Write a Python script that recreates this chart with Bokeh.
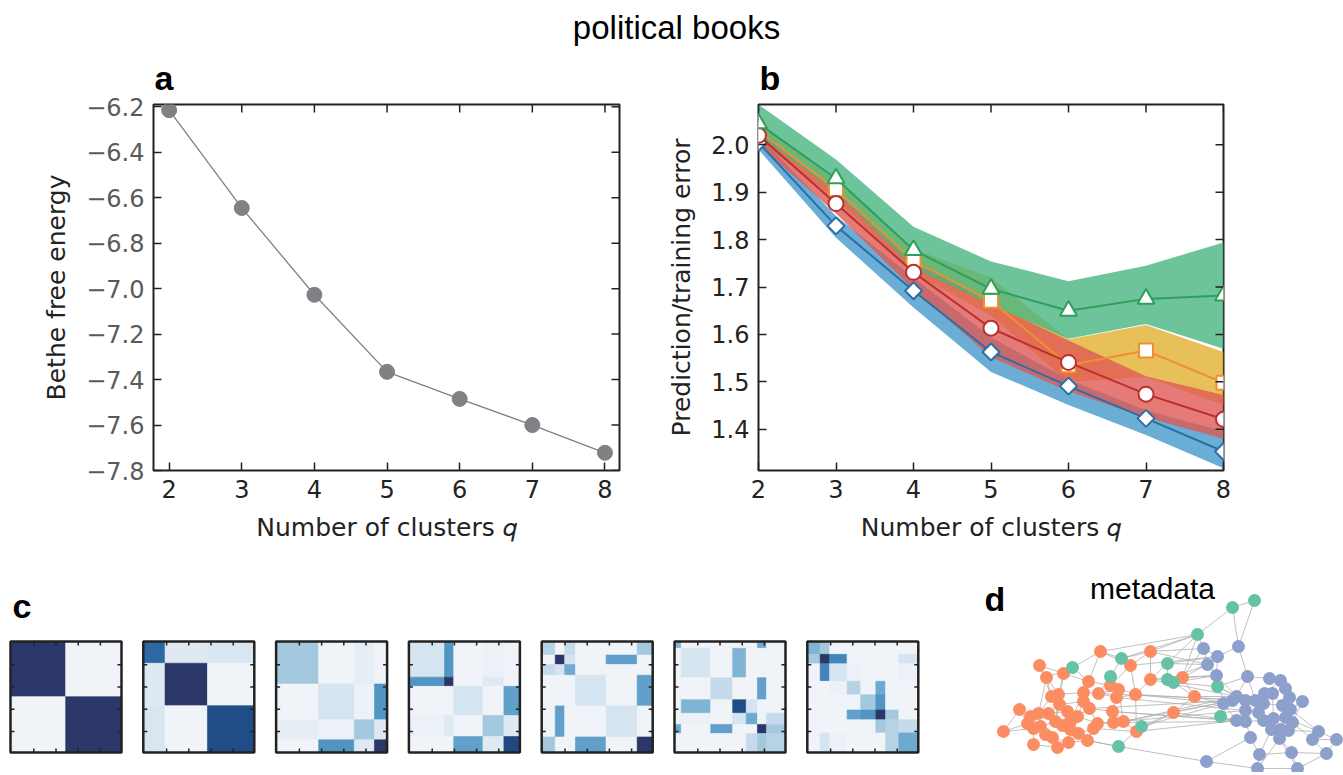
import math
from bokeh.plotting import figure
from bokeh.layouts import column, row
from bokeh.models import Range1d, FixedTicker, ColumnDataSource, LinearColorMapper
from bokeh.core.properties import value
from bokeh.embed import file_html
from bokeh.resources import INLINE

# ---------------- data ----------------
TITLE = "political books"
q_values = [2, 3, 4, 5, 6, 7, 8]

# panel a
bethe_free_energy = [-6.215, -6.645, -7.027, -7.366, -7.485, -7.600, -7.722]
a_yticks = [-7.8, -7.6, -7.4, -7.2, -7.0, -6.8, -6.6, -6.4, -6.2]
a_ytick_labels = ["\u22127.8", "\u22127.6", "\u22127.4", "\u22127.2", "\u22127.0",
                  "\u22126.8", "\u22126.6", "\u22126.4", "\u22126.2"]

# panel b (mean, lower, upper)
b_yticks = [1.4, 1.5, 1.6, 1.7, 1.8, 1.9, 2.0]
b_ytick_labels = ["1.4", "1.5", "1.6", "1.7", "1.8", "1.9", "2.0"]
green_mean = [2.045, 1.929, 1.778, 1.696, 1.650, 1.675, 1.682]
green_lo = [2.020, 1.900, 1.740, 1.662, 1.591, 1.622, 1.570]
green_hi = [2.085, 1.969, 1.827, 1.754, 1.712, 1.745, 1.794]
yellow_mean = [2.030, 1.906, 1.755, 1.671, 1.535, 1.566, 1.498]
yellow_lo = [2.010, 1.885, 1.730, 1.640, 1.500, 1.510, 1.451]
yellow_hi = [2.050, 1.925, 1.780, 1.720, 1.590, 1.620, 1.563]
red_mean = [2.020, 1.876, 1.731, 1.613, 1.541, 1.474, 1.421]
red_lo = [2.000, 1.855, 1.695, 1.552, 1.480, 1.425, 1.380]
red_hi = [2.035, 1.900, 1.760, 1.664, 1.587, 1.512, 1.472]
blue_mean = [2.005, 1.829, 1.692, 1.563, 1.491, 1.423, 1.353]
blue_lo = [1.990, 1.804, 1.657, 1.521, 1.451, 1.388, 1.318]
blue_hi = [2.020, 1.850, 1.720, 1.594, 1.505, 1.440, 1.395]

# panel c: block sizes (fractions) and block matrices for q = 2..8
hm_ticks = [0.21, 0.41, 0.61, 0.81]
blocks_q2 = [0.497, 0.503]
mat_q2 = [[1.0, 0.01], [0.01, 1.0]]
blocks_q3 = [0.196, 0.382, 0.422]
mat_q3 = [[0.76, 0.12, 0.15], [0.12, 1.0, 0.01], [0.15, 0.01, 0.87]]
blocks_q4 = [0.383, 0.322, 0.181, 0.114]
mat_q4 = [[0.38, 0.01, 0.07, 0.01], [0.01, 0.17, 0.03, 0.60],
          [0.07, 0.04, 0.38, 0.12], [0.01, 0.60, 0.12, 1.0]]
blocks_q5 = [0.321, 0.083, 0.263, 0.189, 0.144]
mat_q5 = [[0.17, 0.60, 0.01, 0.04, 0.01], [0.60, 1.0, 0.01, 0.12, 0.01],
          [0.01, 0.01, 0.17, 0.01, 0.55], [0.04, 0.12, 0.01, 0.38, 0.12],
          [0.01, 0.01, 0.55, 0.12, 0.90]]
blocks_q6 = [0.122, 0.085, 0.097, 0.276, 0.280, 0.140]
mat_q6 = [[0.31, 0.01, 0.25, 0.01, 0.01, 0.38], [0.01, 1.0, 0.17, 0.01, 0.55, 0.01],
          [0.25, 0.17, 0.50, 0.01, 0.01, 0.01], [0.01, 0.01, 0.01, 0.17, 0.01, 0.55],
          [0.01, 0.55, 0.01, 0.01, 0.17, 0.01], [0.38, 0.01, 0.01, 0.55, 0.01, 1.0]]
blocks_q7 = [0.061, 0.265, 0.198, 0.122, 0.101, 0.082, 0.171]
mat_q7 = [[0.46, 0.01, 0.01, 0.01, 0.01, 0.50, 0.01],
          [0.01, 0.17, 0.01, 0.46, 0.01, 0.01, 0.01],
          [0.01, 0.01, 0.25, 0.01, 0.01, 0.55, 0.01],
          [0.01, 0.46, 0.01, 0.87, 0.17, 0.01, 0.01],
          [0.01, 0.04, 0.01, 0.17, 0.50, 0.01, 0.25],
          [0.50, 0.01, 0.55, 0.01, 0.01, 1.0, 0.38],
          [0.01, 0.01, 0.01, 0.01, 0.25, 0.38, 0.31]]
blocks_q8 = [0.116, 0.085, 0.158, 0.122, 0.137, 0.088, 0.119, 0.176]
mat_q8 = [[0.46, 0.38, 0.01, 0.01, 0.01, 0.01, 0.01, 0.01],
          [0.38, 1.0, 0.66, 0.01, 0.01, 0.01, 0.01, 0.17],
          [0.01, 0.66, 0.17, 0.04, 0.01, 0.01, 0.01, 0.04],
          [0.01, 0.01, 0.04, 0.31, 0.01, 0.50, 0.01, 0.01],
          [0.01, 0.01, 0.01, 0.01, 0.38, 0.60, 0.01, 0.01],
          [0.01, 0.01, 0.01, 0.55, 0.60, 1.0, 0.38, 0.01],
          [0.01, 0.01, 0.01, 0.01, 0.01, 0.38, 0.31, 0.25],
          [0.01, 0.17, 0.04, 0.01, 0.01, 0.01, 0.31, 0.50]]
all_blocks = [blocks_q2, blocks_q3, blocks_q4, blocks_q5, blocks_q6, blocks_q7, blocks_q8]
all_mats = [mat_q2, mat_q3, mat_q4, mat_q5, mat_q6, mat_q7, mat_q8]

# panel d: node layout positions (liberal, neutral, conservative) and edges
liberal_x = [1100, 1150, 1039, 1063, 1130, 1046, 1088, 1150, 1110, 1118, 1051, 1058, 1083, 1098,
             1116, 1135, 1059, 1083, 1089, 1019, 1112, 1030, 1038, 1048, 1067, 1077, 1027, 1040,
             1055, 1070, 1097, 1113, 1123, 1003, 1033, 1045, 1070, 1078, 1093, 1136, 1052, 1068,
             1087, 1033, 1057, 1173, 1182, 1194, 1062]
liberal_y = [651, 651, 665, 673, 665, 677, 681, 679, 685, 689, 696, 694, 692, 693,
             697, 694, 704, 701, 708, 709, 711, 716, 713, 713, 711, 716, 723, 726,
             721, 721, 723, 722, 721, 731, 728, 734, 729, 733, 728, 731, 737, 742,
             740, 744, 747, 712, 677, 696, 725]
neutral_x = [1254, 1232, 1197, 1121, 1072, 1110, 1167, 1167, 1173, 1217, 1220, 1141, 1118]
neutral_y = [600, 607, 634, 658, 667, 676, 663, 679, 682, 686, 716, 726, 746]
conservative_x = [1203, 1238, 1217, 1207, 1216, 1247, 1269, 1280, 1285, 1289, 1302, 1223, 1236,
                  1232, 1245, 1255, 1264, 1272, 1263, 1282, 1290, 1245, 1258, 1236, 1245, 1263,
                  1273, 1285, 1292, 1271, 1280, 1288, 1250, 1279, 1318, 1312, 1336, 1259, 1291,
                  1326, 1206, 1257, 1297]
conservative_y = [648, 646, 656, 664, 675, 676, 678, 680, 688, 697, 701, 703, 696,
                  700, 700, 700, 693, 693, 703, 705, 709, 710, 712, 720, 721, 720,
                  718, 717, 722, 729, 729, 730, 737, 738, 731, 739, 739, 754, 752,
                  753, 761, 768, 768]
edges = [
    (49, 50), (49, 63), (50, 51), (50, 63), (51, 62), (51, 55), (51, 0), (51, 1), (51, 46), (51, 52),
    (62, 65), (62, 64), (63, 64), (63, 67), (64, 66), (65, 66), (65, 55), (62, 46),
    (66, 73), (66, 74), (67, 68), (67, 74), (67, 77), (68, 69), (69, 70), (70, 71), (71, 72), (72, 82),
    (70, 79), (69, 78), (73, 75), (74, 76), (75, 76), (76, 77), (77, 78), (78, 79), (79, 81), (80, 81),
    (80, 77), (81, 82), (82, 90), (83, 84), (83, 86), (84, 87), (85, 86), (86, 87), (87, 88), (88, 89),
    (89, 90), (88, 91), (91, 92), (92, 93), (93, 90), (94, 86), (94, 99), (95, 92), (95, 100), (96, 97),
    (97, 98), (96, 98), (97, 101), (98, 101), (99, 103), (100, 104), (99, 100), (103, 104), (102, 103),
    (102, 94), (100, 101), (91, 95), (85, 73), (84, 80), (93, 96), (89, 96), (82, 96), (90, 97),
    (73, 59), (75, 59), (85, 59), (76, 58), (74, 58), (66, 58), (67, 58), (80, 87), (81, 89), (83, 85),
    (77, 84), (78, 80), (79, 88), (71, 81), (72, 90), (93, 95), (99, 91), (103, 95), (104, 95), (101, 104),
    (61, 102), (60, 73), (45, 75), (45, 85), (47, 73), (47, 74), (46, 66), (46, 65), (57, 66), (56, 65),
    (58, 57), (55, 64), (39, 85), (32, 75), (15, 73), (15, 76), (7, 66), (7, 74), (1, 62), (1, 65),
    (4, 64), (14, 83), (20, 86), (45, 47), (45, 39), (47, 46), (46, 7), (60, 39), (60, 45), (61, 42),
    (61, 60), (52, 0), (52, 1), (52, 4), (52, 54), (54, 8), (54, 13), (53, 3), (53, 6), (53, 5), (53, 0),
    (0, 6), (0, 4), (1, 4), (1, 7), (4, 8), (7, 15), (15, 39), (4, 15), (13, 77), (20, 85), (31, 86),
    (18, 75), (30, 83), (32, 74), (56, 57), (55, 56), (55, 7), (57, 47),
    (2, 5), (2, 3), (3, 6), (3, 11), (5, 10), (5, 11), (6, 12), (6, 8), (8, 9), (9, 14), (9, 13),
    (12, 13), (12, 17), (13, 14), (14, 20), (10, 11), (10, 16), (11, 12), (16, 17), (17, 18), (18, 20),
    (18, 30), (19, 21), (19, 26), (19, 33), (21, 22), (22, 23), (23, 24), (24, 25), (25, 30), (24, 29),
    (26, 27), (27, 28), (28, 29), (29, 36), (30, 31), (31, 32), (32, 39), (33, 34), (33, 26), (34, 35),
    (35, 40), (36, 37), (37, 42), (38, 42), (38, 30), (40, 41), (41, 44), (42, 41), (43, 34), (43, 44),
    (44, 40), (27, 35), (28, 16), (23, 16), (22, 10), (21, 27), (25, 18), (36, 41), (37, 38), (20, 31),
    (14, 15), (8, 15), (9, 32), (11, 24), (17, 25), (12, 29), (16, 24), (48, 28), (48, 36), (48, 29),
    (48, 24), (30, 32), (20, 32), (38, 39), (42, 61), (5, 22), (2, 10), (6, 17), (3, 16), (12, 18),
    (25, 36), (21, 26), (27, 34), (11, 28), (29, 37),
]

# ---------------- styles / layout constants ----------------
SANS = "DejaVu Sans"
HEAD = "Liberation Sans"
DARK = "#222222"
LABEL_SIZE = "34px"
MID = 0.3465  # distance (in em) from alphabetic baseline to middle of the em box


def style_axis(ax, label_color=DARK):
    ax.axis_line_color = None
    ax.major_tick_in = 8
    ax.major_tick_out = 0
    ax.minor_tick_line_color = None
    ax.major_tick_line_color = DARK
    ax.major_tick_line_width = 1.5
    ax.major_label_text_font = SANS
    ax.major_label_text_font_size = "24px"
    ax.major_label_text_color = label_color
    ax.major_label_standoff = 9
    ax.axis_label_text_font = SANS
    ax.axis_label_text_font_size = "25px"
    ax.axis_label_text_font_style = "normal"
    ax.axis_label_text_color = DARK
    ax.axis_label_standoff = 12


def mirror_ticks(p, xr, yr, xticks, yticks, fw, fh, length=8):
    # inward ticks on the top and right frame edges
    dy = (yr[1] - yr[0]) * length / fh
    dx = (xr[1] - xr[0]) * length / fw
    p.segment(x0=xticks, y0=[yr[1]] * len(xticks), x1=xticks, y1=[yr[1] - dy] * len(xticks),
              line_color=DARK, line_width=1.5)
    p.segment(x0=[xr[1]] * len(yticks), y0=yticks, x1=[xr[1] - dx] * len(yticks), y1=yticks,
              line_color=DARK, line_width=1.5)


def panel_title(p, text):
    p.title.text = text
    p.title.text_font = HEAD
    p.title.text_font_size = LABEL_SIZE
    p.title.text_font_style = "bold"
    p.title.text_color = "black"
    p.title.align = "left"
    p.title.standoff = 15
    p.title.offset = 1


def frame_style(p):
    p.outline_line_color = DARK
    p.outline_line_width = 2
    p.outline_line_alpha = 1.0
    p.xgrid.grid_line_color = None
    p.ygrid.grid_line_color = None


def hide_title(p):
    p.title.text_font_size = "0px"
    p.title.standoff = 0
    p.title.visible = False


# ---------------- title row ----------------
TOP_H = 49
pt = figure(width=1343, height=TOP_H, x_range=Range1d(0, 1343), y_range=Range1d(TOP_H, 0),
            x_axis_type=None, y_axis_type=None, toolbar_location=None,
            output_backend="svg", min_border=0)
hide_title(pt)
pt.outline_line_color = None
pt.xgrid.grid_line_color = None
pt.ygrid.grid_line_color = None
pt.text(x=[676], y=[38 - MID * 33], text=[TITLE], text_font=value(HEAD), text_font_size="33px",
        text_align="center", text_baseline="middle", text_color="black")

# ---------------- panel a ----------------
A_BL, A_BR, B_BT, B_BB = 153, 31, 53, 75
A_W, ROW_H = 650, 496
FH = ROW_H - B_BT - B_BB
a_xr, a_yr = (1.785, 8.2), (-7.80, -6.19)
pa = figure(width=A_W, height=ROW_H, x_range=Range1d(*a_xr), y_range=Range1d(*a_yr),
            toolbar_location=None, output_backend="svg",
            min_border_left=A_BL, min_border_right=A_BR, min_border_top=B_BT, min_border_bottom=B_BB)
frame_style(pa)
panel_title(pa, "a")
pa.xaxis.ticker = FixedTicker(ticks=q_values)
pa.yaxis.ticker = FixedTicker(ticks=a_yticks)
pa.yaxis.major_label_overrides = dict(zip(a_yticks, a_ytick_labels))
style_axis(pa.xaxis[0])
style_axis(pa.yaxis[0], label_color="#5a5a5a")
pa.xaxis.axis_label = "Number of clusters \U0001D45E"
pa.yaxis.axis_label = "Bethe free energy"
mirror_ticks(pa, a_xr, a_yr, q_values, a_yticks, A_W - A_BL - A_BR, FH)
pa.line(q_values, bethe_free_energy, line_color="#808080", line_width=1.3)
pa.scatter(q_values, bethe_free_energy, marker="circle", size=15,
           fill_color="#808184", line_color="#808184")

# ---------------- panel b ----------------
B_BL, B_BR = 108, 120
B_W = 693
b_xr, b_yr = (2, 8), (1.313, 2.085)
pb = figure(width=B_W, height=ROW_H, x_range=Range1d(*b_xr), y_range=Range1d(*b_yr),
            toolbar_location=None, output_backend="svg",
            min_border_left=B_BL, min_border_right=B_BR, min_border_top=B_BT, min_border_bottom=B_BB)
frame_style(pb)
panel_title(pb, "b")
pb.xaxis.ticker = FixedTicker(ticks=q_values)
pb.yaxis.ticker = FixedTicker(ticks=b_yticks)
pb.yaxis.major_label_overrides = dict(zip(b_yticks, b_ytick_labels))
style_axis(pb.xaxis[0])
style_axis(pb.yaxis[0])
pb.xaxis.axis_label = "Number of clusters \U0001D45E"
pb.yaxis.axis_label = "Prediction/training error"

bands = [
    (blue_lo, blue_hi, "#459acc"),
    (yellow_lo, yellow_hi, "#e2b031"),
    (red_lo, red_hi, "#de5954"),
    (green_lo, green_hi, "#48b581"),
]
for lo, hi, col in bands:
    pb.varea(x=q_values, y1=lo, y2=hi, fill_color=col, fill_alpha=0.8)

series = [
    (blue_mean, "#2b6ea5", "square", 12, math.pi / 4),
    (yellow_mean, "#f0902c", "square", 14, 0.0),
    (red_mean, "#b8302f", "circle", 15, 0.0),
    (green_mean, "#2e9e5b", "triangle", 17, 0.0),
]
for mean, col, mk, sz, ang in series:
    pb.line(q_values, mean, line_color=col, line_width=2)
    pb.scatter(q_values, mean, marker=mk, size=sz, angle=ang, fill_color="white",
               line_color=col, line_width=2)
mirror_ticks(pb, b_xr, b_yr, q_values, b_yticks, B_W - B_BL - B_BR, FH)

# ---------------- bottom row: panel c (heatmaps) and panel d (network) ----------------
BOT_TOP = TOP_H + ROW_H
BOT_BOT = 772
pc = figure(width=1343, height=BOT_BOT - BOT_TOP, x_range=Range1d(0, 1343),
            y_range=Range1d(BOT_BOT, BOT_TOP), x_axis_type=None, y_axis_type=None,
            toolbar_location=None, output_backend="svg", min_border=0)
hide_title(pc)
pc.outline_line_color = None
pc.xgrid.grid_line_color = None
pc.ygrid.grid_line_color = None

anchors = [(0.0, "#f2f5f9"), (0.125, "#dde9f2"), (0.25, "#c5dbec"), (0.375, "#a6c9de"),
           (0.5, "#6eaad0"), (0.625, "#4a90c0"), (0.75, "#2e6aa2"), (0.875, "#1f4c86"),
           (1.0, "#2b3768")]


def make_palette(anch, n=101):
    def h2rgb(h):
        return tuple(int(h[i:i + 2], 16) for i in (1, 3, 5))
    out = []
    for k in range(n):
        t = k / (n - 1)
        for (t0, c0), (t1, c1) in zip(anch[:-1], anch[1:]):
            if t0 <= t <= t1:
                f = (t - t0) / (t1 - t0)
                a, b = h2rgb(c0), h2rgb(c1)
                out.append("#%02x%02x%02x" % tuple(round(a[i] + (b[i] - a[i]) * f) for i in range(3)))
                break
    return out


mapper = LinearColorMapper(palette=make_palette(anchors), low=0.0, high=1.0)

HM_LEFT0, HM_PITCH, HM_SIZE, HM_TOP, TICK = 10.0, 132.8, 111.0, 641.0, 4.0
L, R, T, B, V = [], [], [], [], []
fl, fr, ft, fb = [], [], [], []
tx0, ty0, tx1, ty1 = [], [], [], []
for k, (blocks, mat) in enumerate(zip(all_blocks, all_mats)):
    x0 = HM_LEFT0 + k * HM_PITCH
    y0 = HM_TOP
    tot = float(sum(blocks))
    e = [0.0]
    for bsz in blocks:
        e.append(e[-1] + bsz / tot)
    for i, rv in enumerate(mat):
        for j, v in enumerate(rv):
            L.append(x0 + e[j] * HM_SIZE); R.append(x0 + e[j + 1] * HM_SIZE)
            T.append(y0 + e[i] * HM_SIZE); B.append(y0 + e[i + 1] * HM_SIZE)
            V.append(v)
    fl.append(x0); fr.append(x0 + HM_SIZE); ft.append(y0); fb.append(y0 + HM_SIZE)
    for t in hm_ticks:
        xt = x0 + t * HM_SIZE
        yt = y0 + t * HM_SIZE
        # top, bottom, left, right inward ticks
        tx0 += [xt, xt, x0, x0 + HM_SIZE]
        tx1 += [xt, xt, x0 + TICK, x0 + HM_SIZE - TICK]
        ty0 += [y0, y0 + HM_SIZE, yt, yt]
        ty1 += [y0 + TICK, y0 + HM_SIZE - TICK, yt, yt]

cells = ColumnDataSource(dict(left=L, right=R, top=T, bottom=B, v=V))
pc.quad(left="left", right="right", top="top", bottom="bottom", source=cells,
        fill_color={"field": "v", "transform": mapper},
        line_color={"field": "v", "transform": mapper}, line_width=0.6)
pc.segment(x0=tx0, y0=ty0, x1=tx1, y1=ty1, line_color=DARK, line_width=1.5)
pc.quad(left=fl, right=fr, top=ft, bottom=fb, fill_color=None, line_color=DARK, line_width=2.5)
pc.text(x=[12], y=[617 - MID * 34], text=["c"], text_font=value(HEAD), text_font_size=LABEL_SIZE,
        text_font_style="bold", text_baseline="middle", text_color="black")

# network
node_x = liberal_x + neutral_x + conservative_x
node_y = liberal_y + neutral_y + conservative_y
node_c = (["#fc8d62"] * len(liberal_x) + ["#66c2a5"] * len(neutral_x)
          + ["#8da0cb"] * len(conservative_x))
pc.segment(x0=[node_x[a] for a, b in edges], y0=[node_y[a] for a, b in edges],
           x1=[node_x[b] for a, b in edges], y1=[node_y[b] for a, b in edges],
           line_color="#b0b0b0", line_width=0.8)
pc.scatter(node_x, node_y, marker="circle", size=13, fill_color=node_c, line_color=None)
pc.text(x=[984], y=[610 - MID * 34], text=["d"], text_font=value(HEAD), text_font_size=LABEL_SIZE,
        text_font_style="bold", text_baseline="middle", text_color="black")
pc.text(x=[1152], y=[598 - MID * 30], text=["metadata"], text_font=value(HEAD), text_font_size="30px",
        text_align="center", text_baseline="middle", text_color="black")

layout = column(pt, row(pa, pb), pc)
open("out.html", "w").write(file_html(layout, INLINE))
